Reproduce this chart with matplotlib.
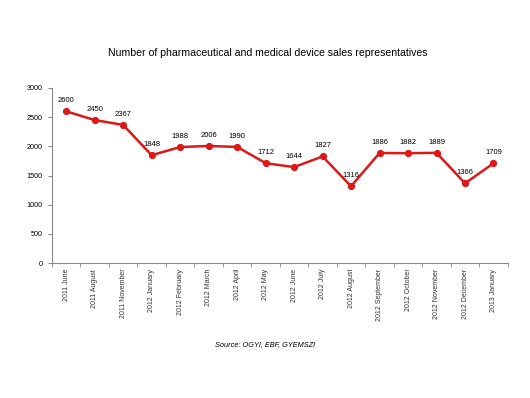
import matplotlib.pyplot as plt
import numpy as np

plt.rcParams["font.family"] = ["Liberation Sans", "DejaVu Sans"]

months = ["2011 June", "2011 August", "2011 November", "2012 January", "2012 February",
          "2012 March", "2012 April", "2012 May", "2012 June", "2012 July", "2012 August",
          "2012 September", "2012 October", "2012 November", "2012 December", "2013 January"]
reps = [2600, 2450, 2367, 1848, 1988, 2006, 1990, 1712, 1644, 1827, 1316,
        1886, 1882, 1889, 1366, 1709]

fig = plt.figure(figsize=(5.3, 3.98), dpi=100)
ax = fig.add_axes([0.098, 0.339, 0.86, 0.44])

x = np.arange(len(months))
ax.plot(x, reps, color="#DD1818", linewidth=1.8, marker="o", markersize=4.2)
for xi, v in zip(x, reps):
    ax.annotate(str(v), (xi, v), xytext=(0, 5), textcoords="offset points",
                ha="center", va="bottom", fontsize=5.5)

ax.set_xlim(-0.5, len(months) - 0.5)
ax.set_ylim(0, 3000)
ax.set_yticks(range(0, 3001, 500))
ax.set_xticks(x)
ax.set_xticklabels(months, rotation=90, fontsize=5, color="#333333")
ax.set_xticks(np.arange(-0.5, len(months), 1), minor=True)
ax.tick_params(axis="x", which="major", length=0, pad=4)
ax.tick_params(axis="x", which="minor", length=3, color="#888888")
ax.tick_params(axis="y", labelsize=5.2, length=3, color="#888888")
for side in ["top", "right"]:
    ax.spines[side].set_visible(False)
for side in ["left", "bottom"]:
    ax.spines[side].set_color("#888888")
    ax.spines[side].set_linewidth(0.8)

fig.text(0.505, 0.866, "Number of pharmaceutical and medical device sales representatives",
         ha="center", va="center", fontsize=7.6)
fig.text(0.5, 0.135, "Source: OGYI, EBF, GYEMSZI", ha="center", va="center",
         fontsize=5.3, style="italic")

fig.savefig("out.png", dpi=100)
